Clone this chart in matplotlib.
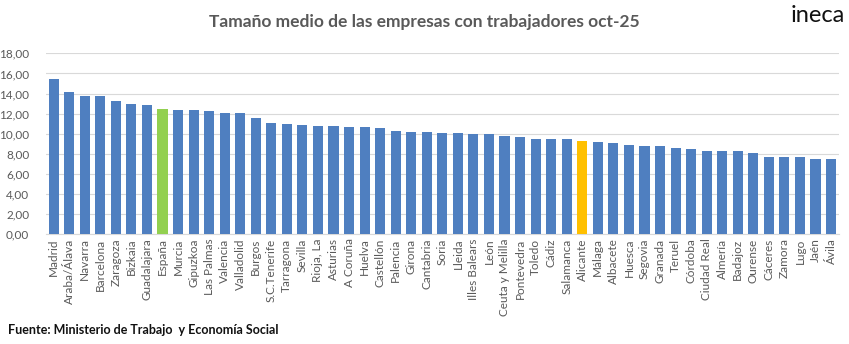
import numpy as np
import matplotlib.pyplot as plt

provincias = ['Madrid', 'Araba/Álava', 'Navarra', 'Barcelona', 'Zaragoza', 'Bizkaia',
              'Guadalajara', 'España', 'Murcia', 'Gipuzkoa', 'Las Palmas', 'Valencia',
              'Valladolid', 'Burgos', 'S.C.Tenerife', 'Tarragona', 'Sevilla', 'Rioja, La',
              'Asturias', 'A Coruña', 'Huelva', 'Castellón', 'Palencia', 'Girona',
              'Cantabria', 'Soria', 'Lleida', 'Illes Balears', 'León', 'Ceuta y Melilla',
              'Pontevedra', 'Toledo', 'Cádiz', 'Salamanca', 'Alicante', 'Málaga',
              'Albacete', 'Huesca', 'Segovia', 'Granada', 'Teruel', 'Córdoba',
              'Ciudad Real', 'Almería', 'Badajoz', 'Ourense', 'Cáceres', 'Zamora',
              'Lugo', 'Jaén', 'Ávila']
tamano = [15.45, 14.2, 13.8, 13.8, 13.23, 12.93,
          12.83, 12.47, 12.36, 12.34, 12.27, 12.08,
          12.07, 11.57, 11.1, 10.99, 10.9, 10.81,
          10.73, 10.72, 10.71, 10.62, 10.31, 10.22,
          10.21, 10.11, 10.1, 9.96, 9.95, 9.75,
          9.65, 9.52, 9.51, 9.5, 9.25, 9.15,
          9.05, 8.86, 8.76, 8.75, 8.56, 8.46,
          8.26, 8.25, 8.24, 8.08, 7.67, 7.66,
          7.65, 7.47, 7.46]

azul = '#4F7FC0'
colores = [azul] * len(provincias)
colores[provincias.index('España')] = '#92D050'
colores[provincias.index('Alicante')] = '#FFC000'

plt.rcParams['font.family'] = ['Lato', 'DejaVu Sans']

fig = plt.figure(figsize=(8.49, 3.44), dpi=100)
ax = fig.add_axes([0.054, 0.319, 0.934, 0.526])

x = np.arange(len(provincias))
ax.bar(x, tamano, width=0.65, color=colores, zorder=3)

ax.set_xlim(-0.5, len(provincias) - 0.5)
ax.set_ylim(0, 18)
ax.set_yticks(np.arange(0, 19, 2))
ax.set_yticklabels([f'{v:.2f}'.replace('.', ',') for v in np.arange(0, 19, 2)])
ax.set_xticks(x)
ax.set_xticklabels(provincias, rotation=90)
ax.tick_params(axis='both', length=0, colors='#595959', labelsize=8.5)
ax.tick_params(axis='y', pad=12)
ax.tick_params(axis='x', pad=3)
ax.grid(axis='y', color='#D9D9D9', linewidth=0.8, zorder=0)
for s in ['top', 'right', 'left']:
    ax.spines[s].set_visible(False)
ax.spines['bottom'].set_color('#D9D9D9')

fig.text(0.5, 0.935, 'Tamaño medio de las empresas con trabajadores oct-25',
         ha='center', va='center', fontsize=12.5, fontweight='bold', color='#595959')
fig.text(0.995, 0.955, 'ineca', ha='right', va='center', fontsize=17, color='#111111')
fig.text(0.01, 0.04, 'Fuente: Ministerio de Trabajo  y Economía Social',
         ha='left', va='center', fontsize=9, fontweight='bold', color='#111111')

fig.savefig('out.png', dpi=100)
